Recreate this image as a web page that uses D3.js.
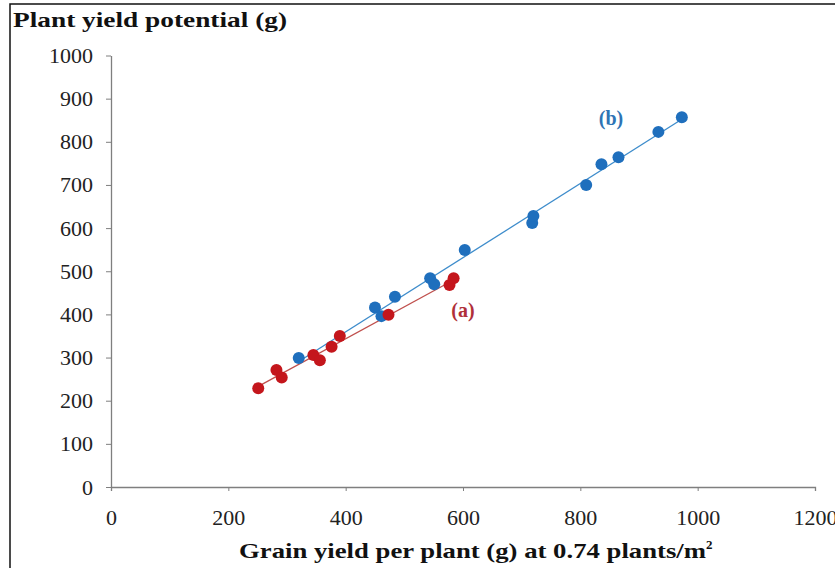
<!DOCTYPE html>
<html>
<head>
<meta charset="utf-8">
<script src="https://cdn.jsdelivr.net/npm/d3@7"></script>
<style>
  body { margin: 0; background: #fff; }
  svg { display: block; }
</style>
</head>
<body>
<div id="chart"></div>
<script>
// series (a): red
var redX = [251, 282, 291, 345, 356, 376, 390, 473, 577, 584];
var redY = [229, 271, 254, 306, 294, 325, 350, 399, 468, 484];
// series (b): blue
var blueX = [320, 450, 461, 484, 544, 551, 603, 718, 720, 810, 836, 865, 933, 973];
var blueY = [299, 416, 396, 441, 484, 470, 549, 612, 628, 700, 748, 764, 823, 857];

var xTicks = [0, 200, 400, 600, 800, 1000, 1200];
var yTicks = [0, 100, 200, 300, 400, 500, 600, 700, 800, 900, 1000];

var W = 835, H = 568;
var serif = "'Liberation Serif', 'DejaVu Serif', serif";

var svg = d3.select("#chart").append("svg")
    .attr("width", W)
    .attr("height", H);

// frame
svg.append("rect")
    .attr("x", 10).attr("y", 4)
    .attr("width", 900).attr("height", 700)
    .attr("fill", "none")
    .attr("stroke", "#111")
    .attr("stroke-width", 1.5);

var x = d3.scaleLinear().domain([0, 1200]).range([111, 815]);
var y = d3.scaleLinear().domain([0, 1000]).range([487, 55.5]);

// axes
var xAxis = svg.append("g")
    .attr("transform", "translate(0,487)")
    .call(d3.axisBottom(x).tickValues(xTicks).tickFormat(d3.format("d"))
        .tickSize(4).tickPadding(18).tickSizeOuter(4));
var yAxis = svg.append("g")
    .attr("transform", "translate(111,0)")
    .call(d3.axisLeft(y).tickValues(yTicks).tickFormat(d3.format("d"))
        .tickSize(5).tickPadding(13).tickSizeOuter(0));

[xAxis, yAxis].forEach(function(g) {
    g.select(".domain").attr("stroke", "#7f7f7f").attr("stroke-width", 1.3);
    g.selectAll(".tick line").attr("stroke", "#7f7f7f");
    g.selectAll(".tick text")
        .attr("fill", "#222")
        .style("font-family", serif)
        .style("font-size", "22px");
});

// linear trend lines
function fit(xs, ys) {
    var mx = d3.mean(xs), my = d3.mean(ys);
    var num = d3.sum(xs, function(v, i) { return (v - mx) * (ys[i] - my); });
    var den = d3.sum(xs, function(v) { return (v - mx) * (v - mx); });
    var b = num / den, a = my - b * mx;
    var ext = d3.extent(xs);
    return [[ext[0], a + b * ext[0]], [ext[1], a + b * ext[1]]];
}

var line = d3.line()
    .x(function(d) { return x(d[0]); })
    .y(function(d) { return y(d[1]); });

svg.append("path")
    .attr("d", line(fit(blueX, blueY)))
    .attr("stroke", "#3d8ccb")
    .attr("stroke-width", 1.3)
    .attr("fill", "none");

svg.append("path")
    .attr("d", line(fit(redX, redY)))
    .attr("stroke", "#c0504d")
    .attr("stroke-width", 1.3)
    .attr("fill", "none");

// points
svg.append("g").selectAll("circle")
    .data(blueX)
    .enter().append("circle")
    .attr("cx", function(d) { return x(d); })
    .attr("cy", function(d, i) { return y(blueY[i]); })
    .attr("r", 6)
    .attr("fill", "#1f6fbd");

svg.append("g").selectAll("circle")
    .data(redX)
    .enter().append("circle")
    .attr("cx", function(d) { return x(d); })
    .attr("cy", function(d, i) { return y(redY[i]); })
    .attr("r", 6)
    .attr("fill", "#c4161c");

// series labels
svg.append("text")
    .attr("x", 463).attr("y", 317)
    .attr("text-anchor", "middle")
    .attr("fill", "#b0303a")
    .style("font-family", serif)
    .style("font-weight", "bold")
    .style("font-size", "20px")
    .text("(a)");

svg.append("text")
    .attr("x", 611).attr("y", 125)
    .attr("text-anchor", "middle")
    .attr("fill", "#2e74b5")
    .style("font-family", serif)
    .style("font-weight", "bold")
    .style("font-size", "20px")
    .text("(b)");

// axis titles
svg.append("text")
    .attr("x", 13).attr("y", 27)
    .attr("textLength", 274)
    .attr("lengthAdjust", "spacingAndGlyphs")
    .attr("fill", "#111")
    .style("font-family", serif)
    .style("font-weight", "bold")
    .style("font-size", "22px")
    .text("Plant yield potential (g)");

var xt = svg.append("text")
    .attr("x", 239).attr("y", 558)
    .attr("fill", "#111")
    .style("font-family", serif)
    .style("font-weight", "bold")
    .style("font-size", "22px");
xt.append("tspan")
    .attr("textLength", 467)
    .attr("lengthAdjust", "spacingAndGlyphs")
    .text("Grain yield per plant (g) at 0.74 plants/m");
xt.append("tspan")
    .attr("dy", -9)
    .style("font-size", "13px")
    .text("2");
</script>
</body>
</html>
